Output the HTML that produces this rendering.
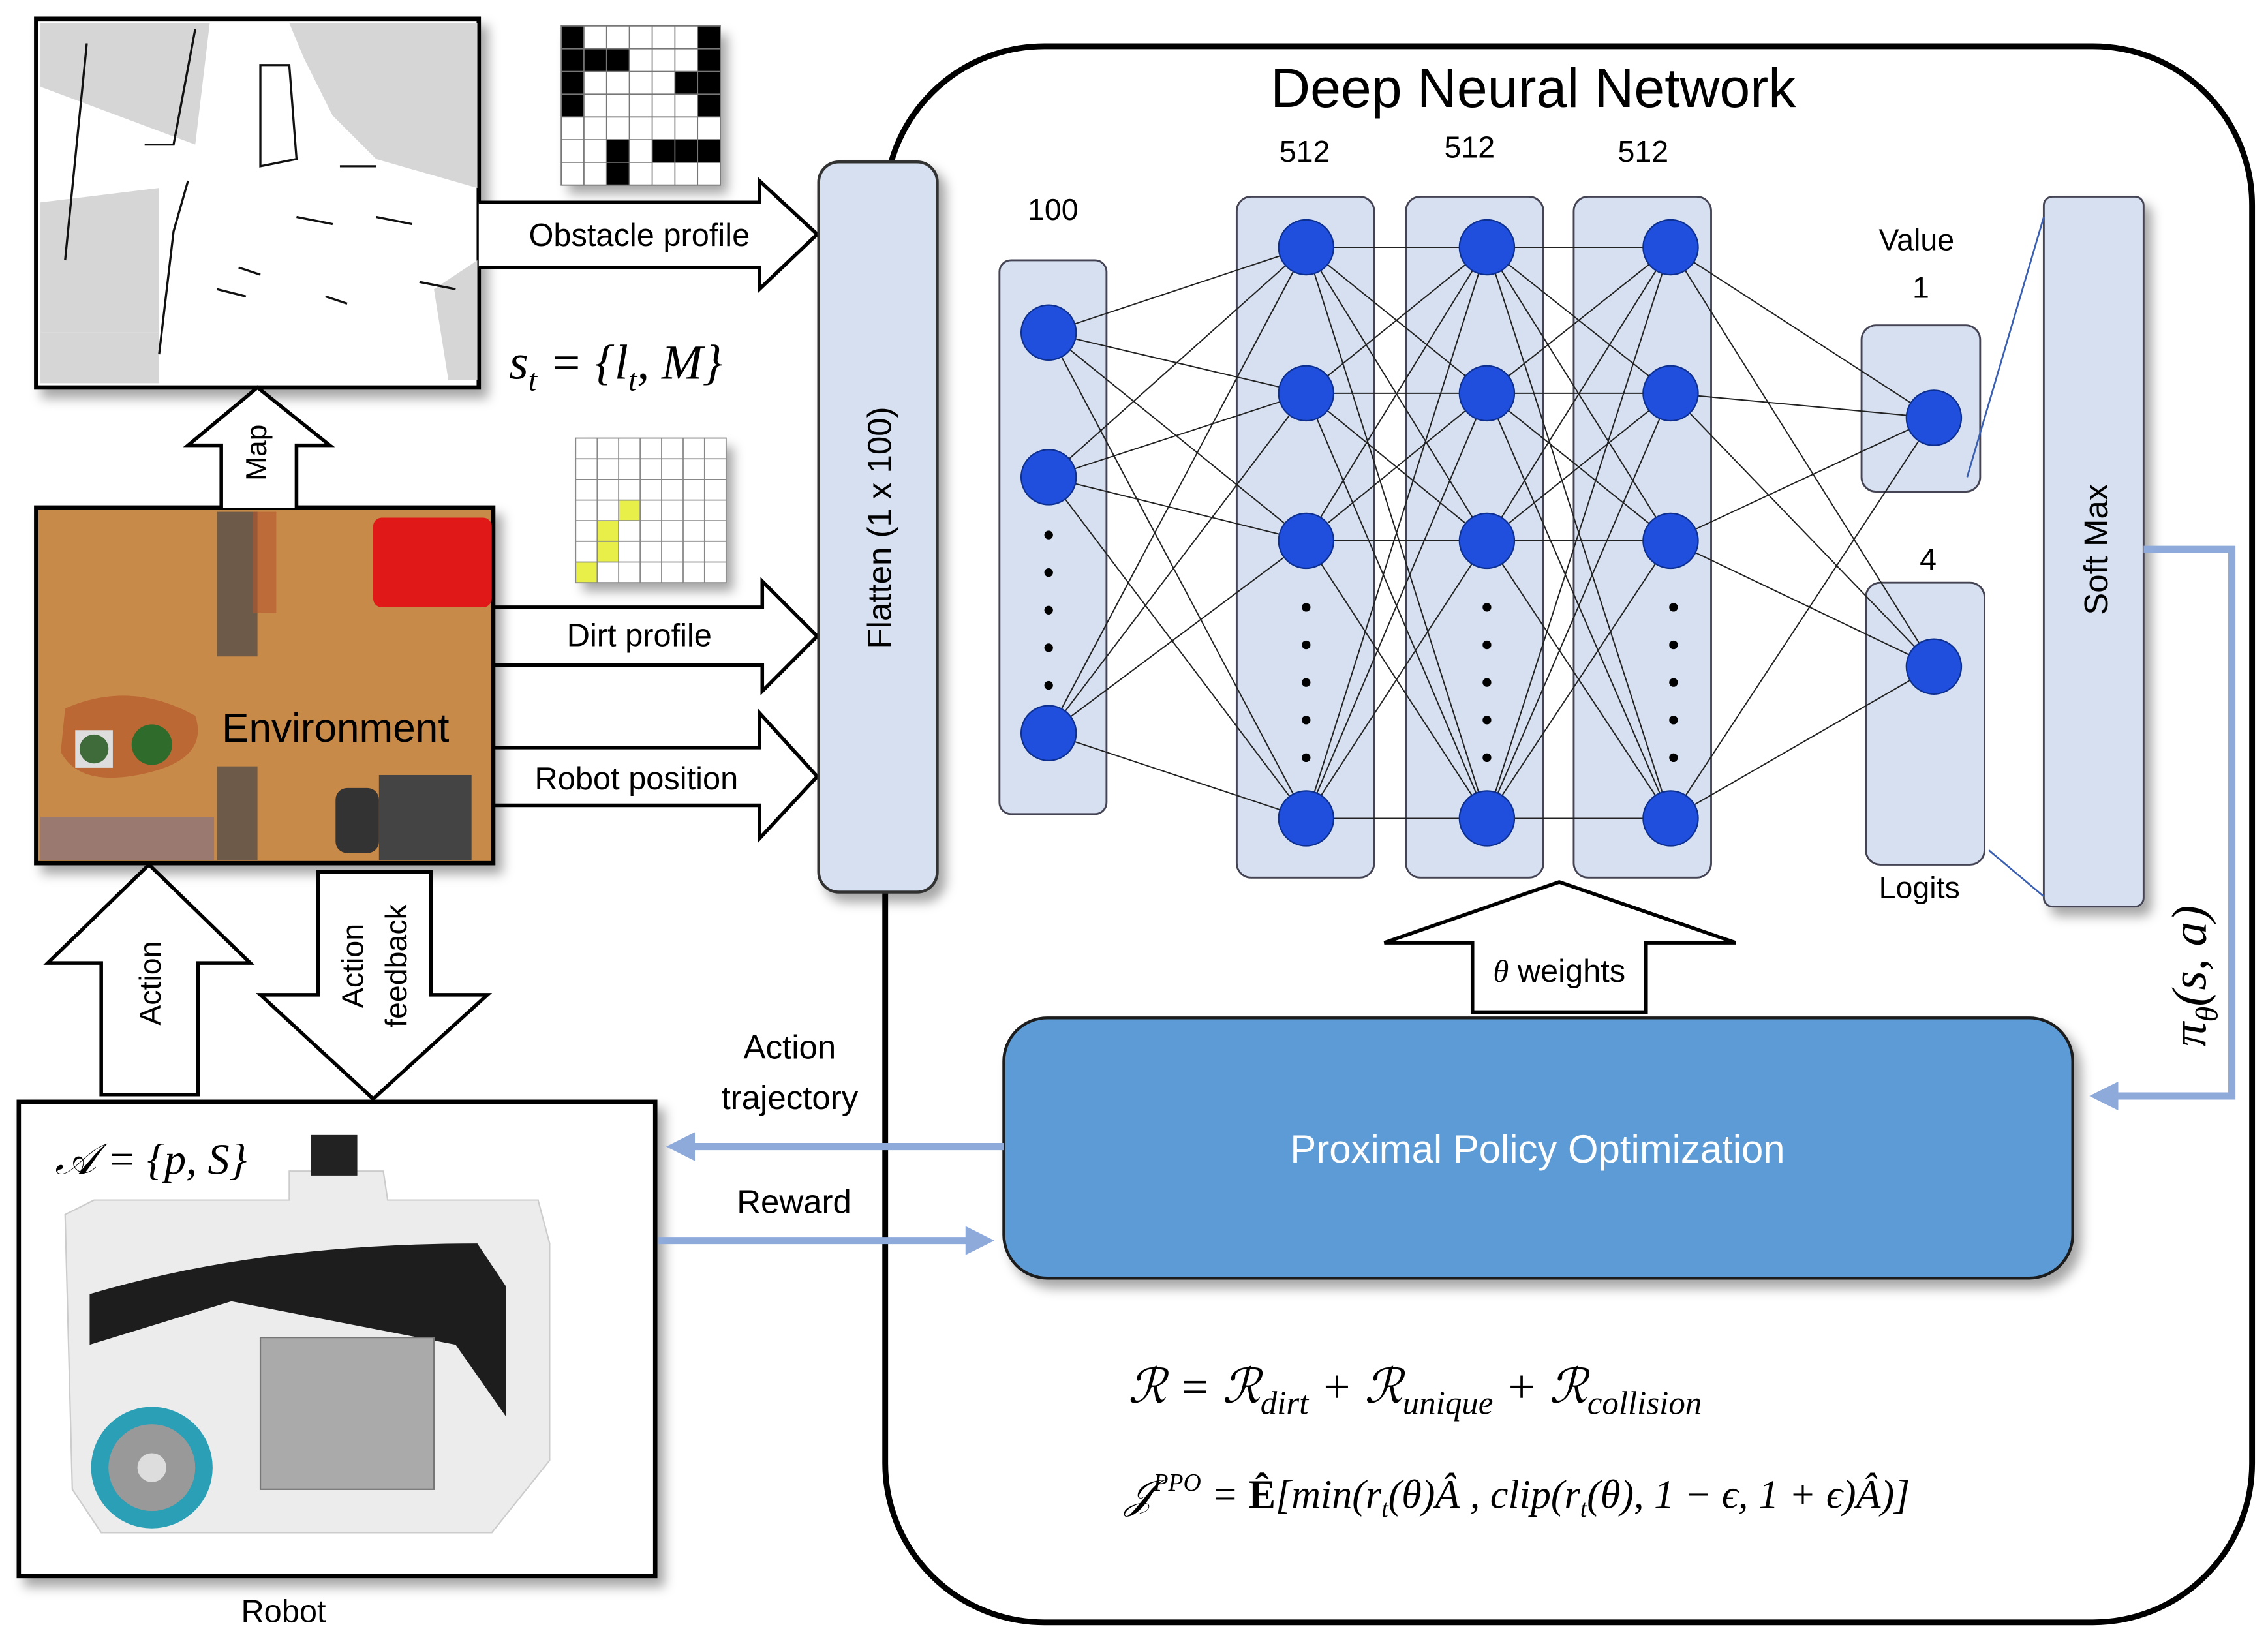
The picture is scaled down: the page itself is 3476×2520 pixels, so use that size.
<!DOCTYPE html>
<html><head><meta charset="utf-8"><style>
html,body{margin:0;padding:0;background:#fff;}
svg{display:block;}
text{font-family:"Liberation Sans",sans-serif;}
.m{font-family:"Liberation Serif",serif;font-style:italic;}
</style></head><body>
<svg width="3476" height="2520" viewBox="0 0 1568 1137" preserveAspectRatio="none" xmlns="http://www.w3.org/2000/svg">
<defs>
<filter id="sh" x="-10%" y="-10%" width="130%" height="130%"><feDropShadow dx="5" dy="6" stdDeviation="4" flood-color="#000" flood-opacity="0.35"/></filter>
<marker id="ah" markerWidth="4" markerHeight="4" refX="2.5" refY="2" orient="auto"><path d="M0,0 L4,2 L0,4 z" fill="#8eaadb"/></marker>
</defs>

<!-- DNN outer (behind flatten) -->
<rect x="612" y="32" width="945" height="1090" rx="110" fill="none" stroke="#000" stroke-width="4"/>
<text x="1060" y="74" font-size="38" text-anchor="middle">Deep Neural Network</text>

<!-- Map -->
<rect x="25" y="13" width="306" height="255" fill="#fff" stroke="#000" stroke-width="3" filter="url(#sh)"/>
<g fill="#d6d6d6">
<polygon points="28,16 145,16 135,100 28,60"/>
<polygon points="28,140 110,130 110,230 28,230"/>
<polygon points="200,16 330,16 330,130 260,110 230,80 210,40"/>
<polygon points="300,200 330,180 330,263 310,263"/>
<polygon points="28,230 110,230 110,265 28,265"/>
</g>
<g stroke="#111" stroke-width="1.5" fill="none">
<path d="M60,30 L45,180"/><path d="M135,20 L120,100 L100,100"/><path d="M130,125 L120,160 L110,245"/>
<path d="M180,45 L200,45 L205,110 L180,115 Z"/><path d="M235,115 L260,115"/>
<path d="M205,150 L230,155"/><path d="M260,150 L285,155"/><path d="M165,185 L180,190"/><path d="M150,200 L170,205"/><path d="M225,205 L240,210"/><path d="M290,195 L315,200"/>
</g>
<!-- obstacle grid -->
<g filter="url(#sh)"><rect x="388" y="18" width="110" height="110" fill="#fff"/></g>
<g fill="#000">
<rect x="388" y="18" width="15.7" height="62.8"/><rect x="482.3" y="18" width="15.7" height="62.8"/>
<rect x="403.7" y="33.7" width="31.4" height="15.7"/><rect x="466.6" y="49.4" width="15.7" height="15.7"/>
<rect x="419.4" y="96.3" width="15.7" height="31.4"/><rect x="450.9" y="96.3" width="47.1" height="15.7"/>
</g>
<g stroke="#777" stroke-width="0.8" fill="none">
<path d="M388,18h110v110h-110z M403.7,18v110 M419.4,18v110 M435.1,18v110 M450.9,18v110 M466.6,18v110 M482.3,18v110 M388,33.7h110 M388,49.4h110 M388,65.1h110 M388,80.9h110 M388,96.6h110 M388,112.3h110"/>
</g>
<!-- dirt grid -->
<g filter="url(#sh)"><rect x="398" y="303" width="104" height="100" fill="#fff"/></g>
<g fill="#e8ef48">
<rect x="427.7" y="345.9" width="14.9" height="14.3"/><rect x="412.9" y="360.1" width="14.9" height="28.6"/><rect x="398" y="388.7" width="14.9" height="14.3"/>
</g>
<g stroke="#888" stroke-width="0.8" fill="none">
<path d="M398,303h104v100h-104z M412.9,303v100 M427.7,303v100 M442.6,303v100 M457.4,303v100 M472.3,303v100 M487.1,303v100 M398,317.3h104 M398,331.6h104 M398,345.9h104 M398,360.1h104 M398,374.4h104 M398,388.7h104"/>
</g>

<!-- big arrows right -->
<g fill="#fff" stroke="#000" stroke-width="2.5">
<path d="M331,140 L525,140 L525,125 L565,162 L525,200 L525,185 L331,185"/>
<path d="M341,420 L527,420 L527,402 L565,440 L527,478 L527,460 L341,460"/>
<path d="M341,517 L525,517 L525,493 L565,537 L525,580 L525,557 L341,557"/>
</g>
<text x="442" y="170" font-size="22" text-anchor="middle">Obstacle profile</text>
<text x="442" y="447" font-size="22" text-anchor="middle">Dirt profile</text>
<text x="440" y="546" font-size="22" text-anchor="middle">Robot position</text>
<text x="352" y="262" class="m" font-size="34">s<tspan font-size="22" dy="8">t</tspan><tspan dy="-8"> = {l</tspan><tspan font-size="22" dy="8">t</tspan><tspan dy="-8">, M}</tspan></text>

<!-- Environment -->
<rect x="25" y="351" width="316" height="246" fill="#c88a4a" stroke="#000" stroke-width="3" filter="url(#sh)"/>
<rect x="150" y="354" width="28" height="100" fill="#6e5a48"/>
<rect x="175" y="354" width="16" height="70" fill="#b5582e" opacity="0.6"/>
<rect x="258" y="358" width="82" height="62" rx="6" fill="#e01818"/>
<path d="M45,490 Q90,470 135,495 Q145,525 100,535 Q55,545 42,520 Z" fill="#b55a2e" opacity="0.7"/>
<rect x="52" y="505" width="26" height="26" fill="#ddd"/><circle cx="65" cy="518" r="10" fill="#3f6a3a"/>
<circle cx="105" cy="515" r="14" fill="#2f6b2a"/>
<rect x="150" y="530" width="28" height="65" fill="#6e5a48"/>
<rect x="262" y="536" width="64" height="59" fill="#444"/><rect x="232" y="545" width="30" height="45" rx="8" fill="#333"/>
<rect x="28" y="565" width="120" height="30" fill="#9a7a70"/>
<text x="232" y="513" font-size="28" text-anchor="middle">Environment</text>

<!-- Map arrow up -->
<path d="M153,351 L153,308 L130,308 L178,268 L228,308 L205,308 L205,351" fill="#fff" stroke="#000" stroke-width="2.5"/>
<text transform="translate(184,313) rotate(-90)" font-size="20" text-anchor="middle">Map</text>

<!-- Action arrows -->
<path d="M70,757 L70,666 L33,666 L103,598 L173,666 L137,666 L137,757 Z" fill="#fff" stroke="#000" stroke-width="2.5"/>
<text transform="translate(111,680) rotate(-90)" font-size="21" text-anchor="middle">Action</text>
<path d="M220,603 L298,603 L298,688 L337,688 L258,760 L180,688 L220,688 Z" fill="#fff" stroke="#000" stroke-width="2.5"/>
<text transform="translate(251,668) rotate(-90)" font-size="21" text-anchor="middle">Action</text>
<text transform="translate(281,668) rotate(-90)" font-size="21" text-anchor="middle">feedback</text>

<!-- Robot -->
<rect x="13" y="762" width="440" height="328" fill="#fff" stroke="#000" stroke-width="3" filter="url(#sh)"/>
<path d="M200,810 L265,810 L268,830 L372,830 L380,860 L380,1010 L340,1060 L70,1060 L50,1030 L45,840 L65,830 L200,830 Z" fill="#ececec" stroke="#ccc"/>
<path d="M62,895 Q180,860 330,860 L350,890 L350,980 L315,930 L160,900 L62,930 Z" fill="#1d1d1d"/>
<rect x="180" y="925" width="120" height="105" fill="#aaa" stroke="#777"/>
<rect x="215" y="785" width="32" height="28" fill="#222"/>
<circle cx="105" cy="1015" r="42" fill="#2a9fb5"/><circle cx="105" cy="1015" r="30" fill="#999"/><circle cx="105" cy="1015" r="10" fill="#ddd"/>
<text x="38" y="812" class="m" font-size="30">𝒜 = {p, S}</text>
<text x="196" y="1122" font-size="22" text-anchor="middle">Robot</text>

<!-- Flatten (on top of outer border) -->
<rect x="566" y="112" width="82" height="505" rx="14" fill="#d6e0f0" stroke="#333" stroke-width="2" filter="url(#sh)"/>
<text transform="translate(616,365) rotate(-90)" font-size="23" text-anchor="middle">Flatten (1 x 100)</text>

<!-- layer boxes -->
<g fill="#d6e0f0" stroke="#445" stroke-width="1.3">
<rect x="691" y="180" width="74" height="383" rx="8"/>
<rect x="855" y="136" width="95" height="471" rx="10"/>
<rect x="972" y="136" width="95" height="471" rx="10"/>
<rect x="1088" y="136" width="95" height="471" rx="10"/>
<rect x="1287" y="225" width="82" height="115" rx="10"/>
<rect x="1290" y="403" width="82" height="195" rx="10"/>
<rect x="1413" y="136" width="69" height="491" rx="6" filter="url(#sh)"/>
</g>
<!-- connections -->
<g stroke="#222" stroke-width="0.9">
<path d="M725,230L903,171M725,230L903,272M725,230L903,374M725,230L903,566M725,330L903,171M725,330L903,272M725,330L903,374M725,330L903,566M725,507L903,171M725,507L903,272M725,507L903,374M725,507L903,566"/>
<path d="M903,171L1028,171M903,171L1028,272M903,171L1028,374M903,171L1028,566M903,272L1028,171M903,272L1028,272M903,272L1028,374M903,272L1028,566M903,374L1028,171M903,374L1028,272M903,374L1028,374M903,374L1028,566M903,566L1028,171M903,566L1028,272M903,566L1028,374M903,566L1028,566"/>
<path d="M1028,171L1155,171M1028,171L1155,272M1028,171L1155,374M1028,171L1155,566M1028,272L1155,171M1028,272L1155,272M1028,272L1155,374M1028,272L1155,566M1028,374L1155,171M1028,374L1155,272M1028,374L1155,374M1028,374L1155,566M1028,566L1155,171M1028,566L1155,272M1028,566L1155,374M1028,566L1155,566"/>
<path d="M1155,171L1337,289M1155,272L1337,289M1155,374L1337,289M1155,566L1337,289M1155,171L1337,461M1155,272L1337,461M1155,374L1337,461M1155,566L1337,461"/>
</g>
<g stroke="#3a5fb0" stroke-width="1.2"><path d="M1413,150 L1360,330"/><path d="M1375,588 L1413,620"/></g>
<g fill="#1f4fdc" stroke="#0d2f90" stroke-width="1">
<circle cx="725" cy="230" r="19"/><circle cx="725" cy="330" r="19"/><circle cx="725" cy="507" r="19"/>
<circle cx="903" cy="171" r="19"/><circle cx="903" cy="272" r="19"/><circle cx="903" cy="374" r="19"/><circle cx="903" cy="566" r="19"/>
<circle cx="1028" cy="171" r="19"/><circle cx="1028" cy="272" r="19"/><circle cx="1028" cy="374" r="19"/><circle cx="1028" cy="566" r="19"/>
<circle cx="1155" cy="171" r="19"/><circle cx="1155" cy="272" r="19"/><circle cx="1155" cy="374" r="19"/><circle cx="1155" cy="566" r="19"/>
<circle cx="1337" cy="289" r="19"/><circle cx="1337" cy="461" r="19"/>
</g>
<g fill="#000">
<circle cx="725" cy="370" r="3"/><circle cx="725" cy="396" r="3"/><circle cx="725" cy="422" r="3"/><circle cx="725" cy="448" r="3"/><circle cx="725" cy="474" r="3"/>
<circle cx="903" cy="420" r="3"/><circle cx="903" cy="446" r="3"/><circle cx="903" cy="472" r="3"/><circle cx="903" cy="498" r="3"/><circle cx="903" cy="524" r="3"/>
<circle cx="1028" cy="420" r="3"/><circle cx="1028" cy="446" r="3"/><circle cx="1028" cy="472" r="3"/><circle cx="1028" cy="498" r="3"/><circle cx="1028" cy="524" r="3"/>
<circle cx="1157" cy="420" r="3"/><circle cx="1157" cy="446" r="3"/><circle cx="1157" cy="472" r="3"/><circle cx="1157" cy="498" r="3"/><circle cx="1157" cy="524" r="3"/>
</g>
<g font-size="21" text-anchor="middle">
<text x="728" y="152">100</text><text x="902" y="112">512</text><text x="1016" y="109">512</text><text x="1136" y="112">512</text>
<text x="1325" y="173">Value</text><text x="1328" y="206">1</text><text x="1333" y="394">4</text><text x="1327" y="621">Logits</text>
</g>
<text transform="translate(1457,380) rotate(-90)" font-size="23" text-anchor="middle">Soft Max</text>

<!-- theta weights -->
<path d="M1018,700 L1018,652 L957,652 L1078,610 L1200,652 L1138,652 L1138,700 Z" fill="#fff" stroke="#000" stroke-width="2.5"/>
<text x="1078" y="679" font-size="22" text-anchor="middle"><tspan class="m">θ</tspan> weights</text>

<!-- PPO -->
<rect x="694" y="704" width="739" height="180" rx="30" fill="#5b9bd5" stroke="#1a1a1a" stroke-width="2" filter="url(#sh)"/>
<text x="1063" y="804" font-size="27" fill="#fff" text-anchor="middle">Proximal Policy Optimization</text>

<!-- blue arrows -->
<g stroke="#8eaadb" stroke-width="5" fill="none">
<path d="M694,793 L468,793" marker-end="url(#ah)"/>
<path d="M455,858 L680,858" marker-end="url(#ah)"/>
<path d="M1482,380 L1543,380 L1543,758 L1452,758" marker-end="url(#ah)"/>
</g>
<text x="546" y="732" font-size="23" text-anchor="middle">Action</text>
<text x="546" y="767" font-size="23" text-anchor="middle">trajectory</text>
<text x="549" y="839" font-size="23" text-anchor="middle">Reward</text>
<text transform="translate(1525,675) rotate(-90)" class="m" font-size="34" text-anchor="middle">π<tspan font-size="22" dy="8">θ</tspan><tspan dy="-8">(s, a)</tspan></text>

<!-- formulas -->
<text x="780" y="970" class="m" font-size="33">ℛ = ℛ<tspan font-size="23" dy="8">dirt</tspan><tspan dy="-8"> + ℛ</tspan><tspan font-size="23" dy="8">unique</tspan><tspan dy="-8"> + ℛ</tspan><tspan font-size="23" dy="8">collision</tspan></text>
<text x="778" y="1043" class="m" font-size="28">𝒥<tspan font-size="17" dy="-12">PPO</tspan><tspan dy="12"> = </tspan><tspan font-weight="bold" font-style="normal">Ê</tspan>[min(r<tspan font-size="17" dy="6">t</tspan><tspan dy="-6">(θ)Â , clip(r</tspan><tspan font-size="17" dy="6">t</tspan><tspan dy="-6">(θ),  1 − ϵ,  1 + ϵ)Â)]</tspan></text>
</svg>
</body></html>
